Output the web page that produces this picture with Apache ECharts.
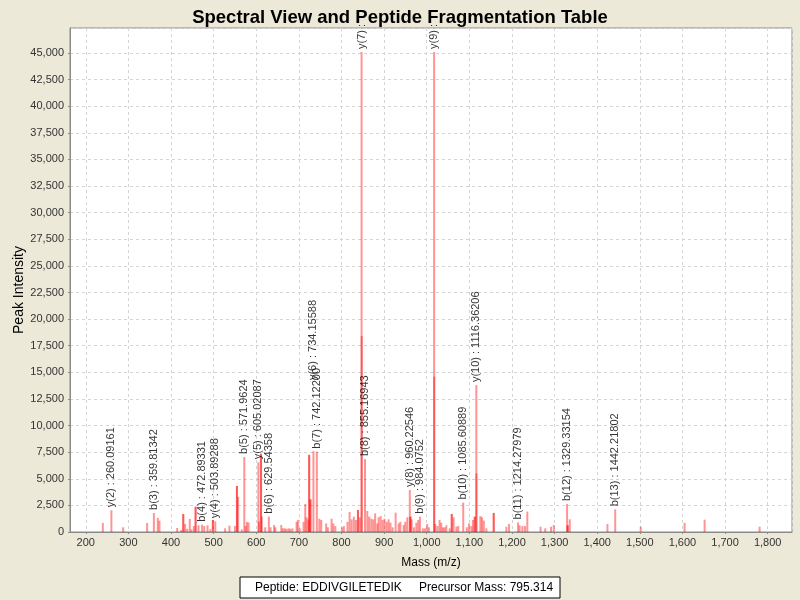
<!DOCTYPE html>
<html>
<head>
<meta charset="utf-8">
<script src="https://cdn.jsdelivr.net/npm/echarts@6/dist/echarts.min.js"></script>
<style>
  html, body { margin: 0; padding: 0; background: #ECE9D8; }
  #spectrum { width: 800px; height: 600px; }
</style>
</head>
<body>
<div id="spectrum"></div>
<script>
// fragment ions that carry a label
var fragLabels = ['y(2) : 260.09161', 'b(3) : 359.81342', 'b(4) : 472.89331', 'y(4) : 503.89288',
    'b(5) : 571.9624', 'y(5) : 605.02087', 'b(6) : 629.54358', 'y(6) : 734.15588',
    'b(7) : 742.12200', 'y(7) :', 'b(8) : 855.16943', 'y(8) : 960.22546', 'b(9) : 984.0752',
    'y(9) :', 'b(10) : 1085.60889', 'y(10) : 1116.36206', 'b(11) : 1214.27979',
    'b(12) : 1329.33154', 'b(13) : 1442.21802'];
var fragMz = [260.09, 359.81, 472.89, 503.89, 571.96, 605.02, 629.54, 734.16, 742.12, 847.1,
    855.17, 960.23, 984.08, 1017.3, 1085.61, 1116.36, 1214.28, 1329.33, 1442.22];
var fragIntensity = [2040, 1790, 680, 1000, 7050, 6550, 1440, 7600, 7550, 45100,
    6850, 3950, 1440, 45100, 2760, 13800, 900, 2630, 2130];

// the other peaks of the spectrum
var peakMz = [240, 287.8, 344, 369, 373, 414.5, 424, 428.6, 428.9, 433, 438, 444, 448, 453.5,
    457.5, 457.8, 464.6, 478, 485.7, 492, 498, 498.3, 527, 537, 550, 554.5, 554.8, 557.5,
    566, 575, 578, 582, 606.5, 611, 611.3, 613, 621, 633.6, 642, 644.6, 658.7, 662.5, 667,
    671, 676, 680, 685, 694.6, 697.7, 702, 711, 715, 718, 722, 724, 724.3, 727, 727.3,
    748, 752.5, 764, 768, 776.7, 780.7, 785.5, 801, 805.6, 814, 819, 823.7, 829, 833.8,
    838.5, 838.8, 843, 847.4, 860.5, 865, 870, 874.6, 879, 884, 887, 891.8, 896.5, 901,
    906, 910.6, 915, 920, 927, 934, 938, 945.8, 949.7, 954.4, 961.5, 961.8, 964.6, 970,
    975.6, 980, 991, 995.8, 1001, 1005, 1017.6, 1020, 1025, 1030, 1034, 1038, 1042, 1046,
    1053.8, 1058.5, 1058.8, 1063, 1069.5, 1074, 1094, 1099, 1104.7, 1108.5, 1112.5, 1112.8,
    1116.6, 1125.8, 1129.6, 1134, 1140, 1157, 1157.3, 1186.8, 1193, 1218, 1224.5, 1230.5,
    1236, 1267, 1278, 1291.5, 1298, 1330.5, 1330.8, 1335.5, 1424, 1502, 1605, 1652, 1781];
var peakIntensity = [850, 440, 850, 1320, 1070, 380, 190, 1690, 1690, 750, 300, 1220, 250, 560,
    2380, 2380, 630, 560, 630, 250, 1130, 1130, 350, 600, 560, 4320, 4320, 3300,
    250, 560, 940, 900, 1000, 7350, 7350, 1440, 440, 440, 660, 440, 660, 345, 345,
    300, 345, 300, 345, 960, 1130, 345, 960, 2630, 1380, 1190, 7250, 7250, 3070, 3070,
    1250, 1130, 800, 440, 1250, 800, 560, 440, 560, 960, 1880, 1190, 1440, 1130,
    2070, 2070, 1380, 18400, 1970, 1440, 1250, 1190, 1750, 800, 1380, 1500, 1130, 1250,
    960, 1190, 880, 440, 1820, 800, 960, 660, 960, 1380, 1440, 1440, 1190, 440,
    880, 1130, 345, 345, 750, 440, 14600, 750, 560, 1130, 880, 440, 440, 630,
    345, 1690, 1690, 1380, 500, 560, 440, 800, 560, 1130, 1440, 1440,
    5500, 1500, 1380, 1070, 345, 1790, 1790, 500, 750, 630, 560, 560,
    1920, 500, 345, 500, 660, 630, 630, 1190, 750, 500, 850, 1160, 500];

var peptide = 'EDDIVGILETEDIK';
var precursorMass = '795.314';

var font = 'Liberation Sans, Arial, sans-serif';

var barData = [];
for (var i = 0; i < peakMz.length; i++) {
    barData.push([peakMz[i], peakIntensity[i]]);
}
for (var i = 0; i < fragMz.length; i++) {
    barData.push([fragMz[i], fragIntensity[i]]);
}

// label anchors; y(6) sits higher so it clears b(7)
var labelData = [];
for (var i = 0; i < fragMz.length; i++) {
    var item = { name: fragLabels[i], value: [fragMz[i], fragIntensity[i]] };
    if (fragLabels[i].indexOf('y(6)') == 0) {
        item.label = { distance: 71 };
    }
    labelData.push(item);
}

var myChart = echarts.init(document.getElementById('spectrum'));
myChart.setOption({
    backgroundColor: '#ECE9D8',
    animation: false,
    title: {
        text: 'Spectral View and Peptide Fragmentation Table',
        left: 'center',
        top: 3,
        textStyle: { fontFamily: font, fontSize: 18.5, fontWeight: 'bold', color: '#000' }
    },
    grid: {
        left: 70, right: 8, top: 28, bottom: 68,
        show: true, backgroundColor: '#ffffff', borderColor: '#8a8a8a', borderWidth: 1
    },
    xAxis: {
        type: 'value',
        min: 163, max: 1857,
        splitNumber: 17, minInterval: 100, maxInterval: 100,
        name: 'Mass (m/z)',
        nameLocation: 'middle',
        nameGap: 25,
        nameTextStyle: { fontFamily: font, fontSize: 12, color: '#000' },
        axisLine: { lineStyle: { color: '#8a8a8a' } },
        axisTick: { show: true, length: 2, lineStyle: { color: '#8a8a8a' } },
        axisLabel: { fontFamily: font, fontSize: 11, color: '#333', margin: 5,
            showMinLabel: false, showMaxLabel: false },
        splitLine: { show: true, lineStyle: { color: '#d4d4d4', type: [3, 3] } }
    },
    yAxis: {
        type: 'value',
        min: 0, max: 47350,
        interval: 2500,
        axisLine: { show: true, lineStyle: { color: '#8a8a8a' } },
        axisTick: { show: true, length: 2, lineStyle: { color: '#8a8a8a' } },
        axisLabel: { fontFamily: font, fontSize: 11, color: '#333', margin: 6, showMaxLabel: false },
        splitLine: { show: true, lineStyle: { color: '#d4d4d4', type: [3, 3] } }
    },
    series: [
        {
            type: 'bar',
            data: barData,
            barWidth: 2,
            itemStyle: { color: 'rgba(255,0,0,0.42)' },
            silent: true
        },
        {
            type: 'scatter',
            data: labelData,
            symbolSize: 0,
            z: 5,
            label: {
                show: true,
                position: 'top',
                distance: 3,
                rotate: 90,
                align: 'left',
                verticalAlign: 'middle',
                formatter: '{b}',
                fontFamily: font,
                fontSize: 11,
                color: '#000'
            },
            silent: true
        }
    ],
    graphic: [
        {
            type: 'text',
            x: 19, y: 290,
            rotation: Math.PI / 2,
            style: { text: 'Peak Intensity', font: '14px ' + font, fill: '#000',
                align: 'center', verticalAlign: 'middle' }
        },
        {
            type: 'rect',
            shape: { x: 240, y: 577, width: 320, height: 21 },
            style: { fill: '#ffffff', stroke: '#000000', lineWidth: 1 }
        },
        {
            type: 'text',
            x: 255, y: 587.5,
            style: { text: 'Peptide: ' + peptide, font: '12px ' + font, fill: '#000', verticalAlign: 'middle' }
        },
        {
            type: 'text',
            x: 419, y: 587.5,
            style: { text: 'Precursor Mass: ' + precursorMass, font: '12px ' + font, fill: '#000', verticalAlign: 'middle' }
        }
    ]
});
</script>
</body>
</html>
